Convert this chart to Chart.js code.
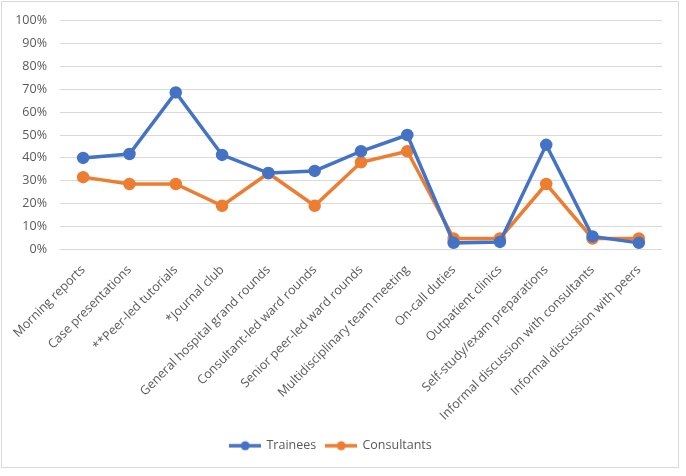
<!DOCTYPE html>
<html>
<head>
<meta charset="utf-8">
<script src="https://cdn.jsdelivr.net/npm/chart.js@4"></script>
<style>
  html, body { margin: 0; padding: 0; background: #fff; }
  #wrap { width: 686px; height: 476px; }
</style>
</head>
<body>
<div id="wrap"><canvas id="learningChart" width="686" height="476"></canvas></div>
<script>
const categories = [
    "Morning reports", "Case presentations", "**Peer-led tutorials", "*Journal club",
    "General hospital grand rounds", "Consultant-led ward rounds", "Senior peer-led ward rounds",
    "Multidisciplinary team meeting", "On-call duties", "Outpatient clinics",
    "Self-study/exam preparations", "Informal discussion with consultants", "Informal discussion with peers"
];
const trainees = [40, 41.7, 68.6, 41.3, 33.4, 34.3, 42.9, 50, 2.9, 3.3, 45.7, 5.7, 2.9];
const consultants = [31.6, 28.6, 28.6, 19.1, 33.3, 19.1, 38.1, 42.9, 4.8, 4.8, 28.6, 4.8, 4.8];
const yTicks = [0, 10, 20, 30, 40, 50, 60, 70, 80, 90, 100];

const BLUE = '#4472C4';
const ORANGE = '#ED7D31';
const TEXT = '#595959';
const GRID = '#d9d9d9';
const FONT = 'Open Sans';

function legendMarker(color) {
    const c = document.createElement('canvas');
    c.width = 32;
    c.height = 12;
    const ctx = c.getContext('2d');
    ctx.strokeStyle = color;
    ctx.lineWidth = 3.5;
    ctx.beginPath();
    ctx.moveTo(0, 6);
    ctx.lineTo(32, 6);
    ctx.stroke();
    ctx.fillStyle = color;
    ctx.beginPath();
    ctx.arc(16, 6, 4.5, 0, Math.PI * 2);
    ctx.fill();
    return c;
}

// frame around the whole chart like the Excel chart border
const framePlugin = {
    id: 'frame',
    beforeDraw(chart) {
        const ctx = chart.ctx;
        ctx.save();
        ctx.fillStyle = '#fff';
        ctx.fillRect(0, 0, chart.width, chart.height);
        ctx.strokeStyle = GRID;
        ctx.lineWidth = 1;
        ctx.strokeRect(1.5, 1.5, 677, 466);
        ctx.restore();
    }
};

const markers = [legendMarker(BLUE), legendMarker(ORANGE)];

const data = {
    labels: categories,
    datasets: [{
        label: 'Trainees',
        data: trainees,
        borderColor: BLUE,
        backgroundColor: BLUE,
        pointBackgroundColor: BLUE,
        pointBorderColor: BLUE,
        borderWidth: 3.5,
        pointRadius: 4.5,
        pointStyle: 'circle',
        tension: 0
    }, {
        label: 'Consultants',
        data: consultants,
        borderColor: ORANGE,
        backgroundColor: ORANGE,
        pointBackgroundColor: ORANGE,
        pointBorderColor: ORANGE,
        borderWidth: 3.5,
        pointRadius: 4.5,
        pointStyle: 'circle',
        tension: 0
    }]
};

const config = {
    type: 'line',
    data: data,
    options: {
        responsive: false,
        animation: false,
        layout: { padding: { left: 0, right: 24, top: 18, bottom: 14 } },
        plugins: {
            legend: {
                position: 'bottom',
                labels: {
                    usePointStyle: true,
                    pointStyleWidth: 30,
                    color: TEXT,
                    padding: 10,
                    font: { family: FONT, size: 12.5 },
                    generateLabels(chart) {
                        return chart.data.datasets.map((ds, i) => ({
                            text: ds.label,
                            fontColor: TEXT,
                            pointStyle: markers[i],
                            datasetIndex: i,
                            hidden: false,
                            lineWidth: 0,
                            strokeStyle: ds.borderColor,
                            fillStyle: ds.borderColor
                        }));
                    }
                }
            },
            tooltip: { enabled: false }
        },
        scales: {
            x: {
                offset: true,
                grid: { display: false, drawTicks: false },
                border: { display: false },
                ticks: {
                    color: TEXT,
                    font: { family: FONT, size: 12.5 },
                    minRotation: 45,
                    maxRotation: 45,
                    autoSkip: false,
                    padding: 13
                },
                afterFit(scale) { scale.height = 180; }
            },
            y: {
                min: 0,
                max: 100,
                afterBuildTicks(scale) {
                    scale.ticks = yTicks.map(v => ({ value: v }));
                },
                grid: { color: GRID, lineWidth: 1, drawTicks: false },
                border: { display: false },
                ticks: {
                    color: TEXT,
                    font: { family: FONT, size: 12.5 },
                    padding: 13,
                    callback: v => v + '%'
                },
                afterFit(scale) { scale.width = 60; }
            }
        }
    },
    plugins: [framePlugin]
};

const myChart = new Chart(document.getElementById('learningChart'), config);
</script>
</body>
</html>
